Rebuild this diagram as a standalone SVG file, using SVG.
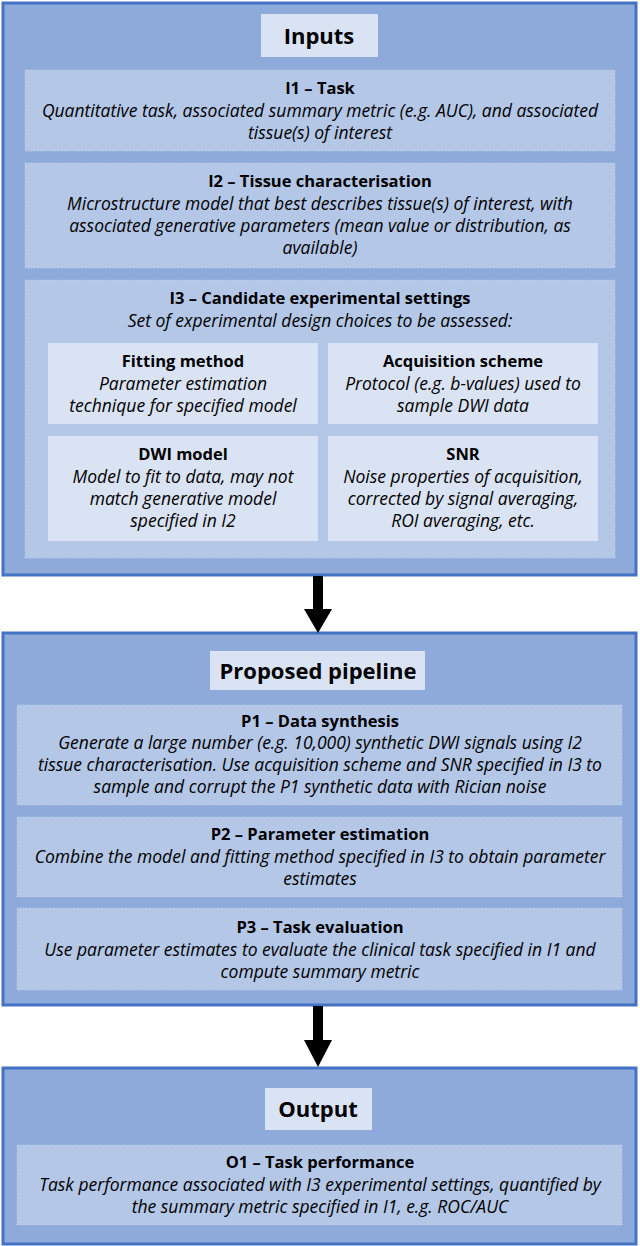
<svg xmlns="http://www.w3.org/2000/svg" width="640" height="1246" viewBox="0 0 640 1246">
<style>
.outer{fill:#8eaadb;stroke:#4472c4;stroke-width:3}
.box{fill:#b4c7e7;stroke:#bfcfeb;stroke-width:1;stroke-dasharray:1 2}
.sub{fill:#dae3f3}
.ttl{fill:#dae3f3}
text{font-family:"Open Sans","Liberation Sans",sans-serif;fill:#000;text-anchor:middle}
.h{font-size:22px;font-weight:bold}
.b{font-size:16.5px;font-weight:bold}
.i{font-size:17.5px;font-style:italic}
</style>
<g id="inputs">
<rect class="outer" x="3" y="3" width="633" height="572"/>
<rect class="ttl" x="261" y="14" width="117" height="43"/>
<text class="h" x="319" y="44">Inputs</text>
</g>
<g id="i1">
<rect class="box" x="25" y="70" width="590" height="81"/>
<text class="b" x="320" y="94">I1 – Task</text>
<text class="i" x="320" y="117">Quantitative task, associated summary metric (e.g. AUC), and associated</text>
<text class="i" x="320" y="139">tissue(s) of interest</text>
</g>
<g id="i2">
<rect class="box" x="25" y="163" width="590" height="105"/>
<text class="b" x="320" y="187">I2 – Tissue characterisation</text>
<text class="i" x="320" y="210">Microstructure model that best describes tissue(s) of interest, with</text>
<text class="i" x="320" y="232">associated generative parameters (mean value or distribution, as</text>
<text class="i" x="320" y="254">available)</text>
</g>
<g id="i3">
<rect class="box" x="25" y="280" width="590" height="278"/>
<text class="b" x="320" y="304">I3 – Candidate experimental settings</text>
<text class="i" x="320" y="327">Set of experimental design choices to be assessed:</text>
</g>
<g id="fitting">
<rect class="sub" x="48" y="343" width="270" height="81"/>
<text class="b" x="183" y="367">Fitting method</text>
<text class="i" x="183" y="390">Parameter estimation</text>
<text class="i" x="183" y="412">technique for specified model</text>
</g>
<g id="acq">
<rect class="sub" x="328" y="343" width="270" height="81"/>
<text class="b" x="463" y="367">Acquisition scheme</text>
<text class="i" x="463" y="390">Protocol (e.g. b-values) used to</text>
<text class="i" x="463" y="412">sample DWI data</text>
</g>
<g id="dwi">
<rect class="sub" x="48" y="436" width="270" height="105"/>
<text class="b" x="183" y="460">DWI model</text>
<text class="i" x="183" y="483">Model to fit to data, may not</text>
<text class="i" x="183" y="505">match generative model</text>
<text class="i" x="183" y="527">specified in I2</text>
</g>
<g id="snr">
<rect class="sub" x="328" y="436" width="270" height="105"/>
<text class="b" x="463" y="460">SNR</text>
<text class="i" x="463" y="483">Noise properties of acquisition,</text>
<text class="i" x="463" y="505">corrected by signal averaging,</text>
<text class="i" x="463" y="527">ROI averaging, etc.</text>
</g>
<g id="pipeline">
<rect class="outer" x="3" y="633" width="633" height="372"/>
<rect class="ttl" x="210" y="651" width="215" height="39"/>
<text class="h" x="318" y="679">Proposed pipeline</text>
</g>
<g id="p1">
<rect class="box" x="17" y="705" width="605" height="100"/>
<text class="b" x="320" y="727">P1 – Data synthesis</text>
<text class="i" x="320" y="749">Generate a large number (e.g. 10,000) synthetic DWI signals using I2</text>
<text class="i" x="320" y="771">tissue characterisation. Use acquisition scheme and SNR specified in I3 to</text>
<text class="i" x="320" y="793">sample and corrupt the P1 synthetic data with Rician noise</text>
</g>
<g id="p2">
<rect class="box" x="17" y="817" width="605" height="80"/>
<text class="b" x="320" y="840">P2 – Parameter estimation</text>
<text class="i" x="320" y="863">Combine the model and fitting method specified in I3 to obtain parameter</text>
<text class="i" x="320" y="885">estimates</text>
</g>
<g id="p3">
<rect class="box" x="17" y="908" width="605" height="82"/>
<text class="b" x="320" y="933">P3 – Task evaluation</text>
<text class="i" x="320" y="956">Use parameter estimates to evaluate the clinical task specified in I1 and</text>
<text class="i" x="320" y="978">compute summary metric</text>
</g>
<g id="output">
<rect class="outer" x="3" y="1068" width="633" height="176"/>
<rect class="ttl" x="265" y="1088" width="107" height="42"/>
<text class="h" x="318" y="1117">Output</text>
</g>
<g id="o1">
<rect class="box" x="17" y="1145" width="605" height="80"/>
<text class="b" x="320" y="1168">O1 – Task performance</text>
<text class="i" x="320" y="1191">Task performance associated with I3 experimental settings, quantified by</text>
<text class="i" x="320" y="1213">the summary metric specified in I1, e.g. ROC/AUC</text>
</g>
<g id="connectors">
<rect x="313" y="576" width="10" height="34" fill="#000"/>
<polygon points="304,609 332,609 318,633" fill="#000"/>
<rect x="313" y="1006" width="10" height="35" fill="#000"/>
<polygon points="304,1040 332,1040 318,1067" fill="#000"/>
</g>
</svg>
